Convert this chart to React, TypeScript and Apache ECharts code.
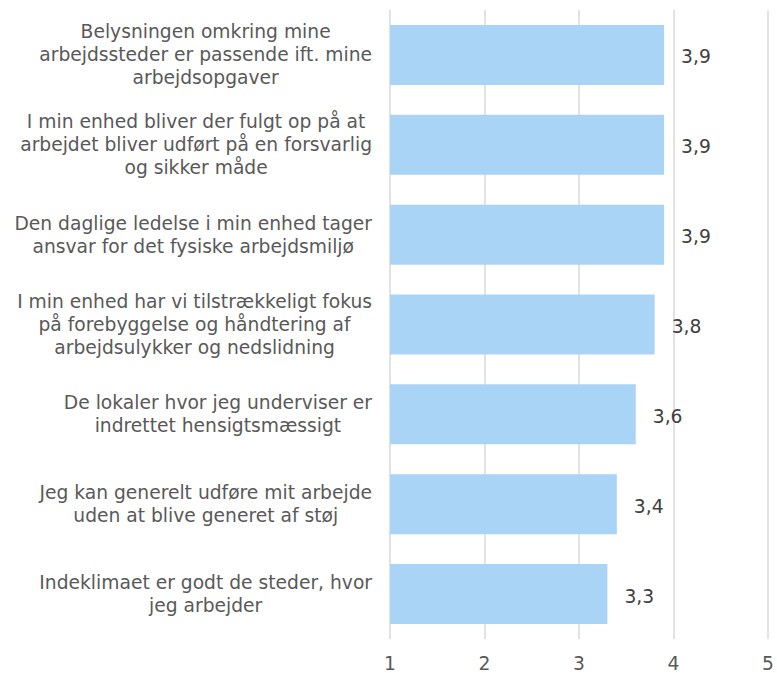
import React, { useEffect, useRef } from "react";
import * as echarts from "echarts";

const categories: string[] = [
  "Belysningen omkring mine\narbejdssteder er passende ift. mine\narbejdsopgaver",
  "I min enhed bliver der fulgt op på at\narbejdet bliver udført på en forsvarlig\nog sikker måde",
  "Den daglige ledelse i min enhed tager\nansvar for det fysiske arbejdsmiljø",
  "I min enhed har vi tilstrækkeligt fokus\npå forebyggelse og håndtering af\narbejdsulykker og nedslidning",
  "De lokaler hvor jeg underviser er\nindrettet hensigtsmæssigt",
  "Jeg kan generelt udføre mit arbejde\nuden at blive generet af støj",
  "Indeklimaet er godt de steder, hvor\njeg arbejder",
];
const values: number[] = [3.9, 3.9, 3.9, 3.8, 3.6, 3.4, 3.3];
const xMin = 1;
const xMax = 5;

export default function App() {
  const ref = useRef<HTMLDivElement>(null);
  useEffect(() => {
    document.body.style.margin = "0";
    const chart = echarts.init(ref.current!, null, { renderer: "svg" });
    const font = "'DejaVu Sans', Verdana, sans-serif";
    const fs = 18.7;
    chart.setOption({
      animation: false,
      grid: { left: 390, right: 8, top: 10, bottom: 33, containLabel: false },
      xAxis: {
        type: "value",
        min: xMin,
        max: xMax,
        interval: 1,
        axisLine: { show: false },
        axisTick: { show: false },
        splitLine: { show: true, lineStyle: { color: "#d9d9d9", width: 1.5 } },
        axisLabel: { color: "#595959", fontSize: fs, fontFamily: font, margin: 15 },
      },
      yAxis: {
        type: "category",
        inverse: true,
        data: categories,
        axisLine: { show: false },
        axisTick: { show: false },
        axisLabel: {
          margin: 18,
          color: "#595959",
          fontSize: fs,
          fontFamily: font,
          lineHeight: 23,
          formatter: (v: string) =>
            v
              .split("\n")
              .map((l) => "{c|" + l + "}")
              .join("\n"),
          rich: {
            c: { align: "center", color: "#595959", fontSize: fs, fontFamily: font, lineHeight: 23 },
          },
        },
      },
      series: [
        {
          type: "bar",
          data: values,
          barWidth: 60,
          itemStyle: { color: "#a9d4f5" },
          label: {
            show: true,
            position: "right",
            distance: 17,
            offset: [0, 2],
            color: "#404040",
            fontSize: fs,
            fontFamily: font,
            formatter: (p: any) => String(p.value).replace(".", ","),
          },
        },
      ],
    });
    return () => chart.dispose();
  }, []);
  return <div ref={ref} style={{ width: 777, height: 673 }} />;
}
